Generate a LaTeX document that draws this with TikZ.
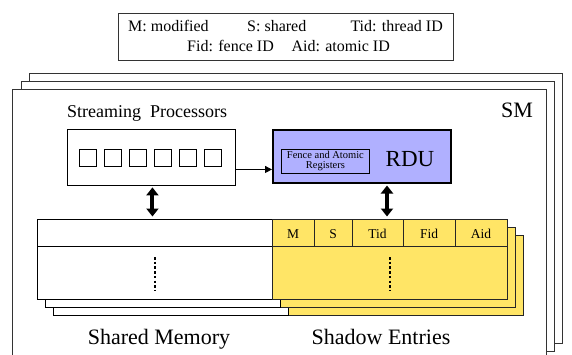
\documentclass[tikz,border=0pt]{standalone}
\usepackage{fontspec}
\setmainfont{Liberation Serif}
\usetikzlibrary{arrows.meta}
\definecolor{rdublue}{HTML}{B0B0FF}
\definecolor{shadowyellow}{HTML}{FFE566}
\definecolor{frameline}{HTML}{333333}

\begin{document}
\begin{tikzpicture}[x=1pt,y=-1pt,
  box/.style={draw, inner sep=0pt, anchor=north west},
  smframe/.style={draw=frameline, line width=0.9pt, fill=white},
  membox/.style={draw, line width=0.9pt, fill=white},
  shdbox/.style={draw=black!85, line width=0.9pt, fill=shadowyellow},
  bigarrow/.style={line width=4pt, {Triangle[length=8pt,width=12pt]}-{Triangle[length=8pt,width=12pt]}, shorten <=1.5pt, shorten >=2.5pt},
  dotcol/.style={line width=2pt, dash pattern=on 2.5pt off 2.2pt},
  lab/.style={anchor=base, inner sep=0pt},
]
\useasboundingbox (0,0) rectangle (572,354);
\clip (0,0) rectangle (572,354);

% legend
\node[box, draw=frameline, line width=0.9pt, minimum width=335pt, minimum height=47pt] (legend) at (118,13) {};
\begin{scope}[font=\fontsize{16}{19}\selectfont]
\node[lab, anchor=base west] (lm) at (128,31) {M: modified};
\node[lab, anchor=base west] (ls) at (247,31) {S: shared};
\node[lab, anchor=base east] (lt) at (443,31) {Tid: thread ID};
\node[lab, anchor=base west] (lf) at (187,51) {Fid: fence ID};
\node[lab, anchor=base east] (la) at (390,51) {Aid: atomic ID};
\end{scope}

% stacked SM frames
\draw[smframe] (29,73) rectangle (562,343);
\draw[smframe] (21,81) rectangle (554,351);
\draw[smframe] (12,89) rectangle (546,362);
\node[lab, font=\fontsize{22}{24}\selectfont] (smlabel) at (517,117) {SM};

% streaming processors
\node[lab, anchor=base west, font=\fontsize{18}{20}\selectfont] (sptitle) at (67,117) {Streaming\ \ Processors};
\node[box, line width=0.9pt, minimum width=168pt, minimum height=56pt] (sp) at (67,129) {};
\foreach \i in {0,...,5}
  \draw[line width=0.8pt] (79+25*\i,149) rectangle ++(17,17);

% RDU
\node[box, line width=2pt, fill=rdublue, minimum width=178pt, minimum height=53pt] (rdu) at (272,129) {};
\node[box, line width=0.8pt, minimum width=88pt, minimum height=24pt] (regs) at (281,149) {};
\node[align=center, inner sep=0pt, font=\fontsize{10.5}{10}\selectfont] (regtext) at (regs.center) {Fence and Atomic\\Registers};
\node[lab, font=\fontsize{23}{25}\selectfont] (rdulabel) at (410,166) {RDU};

% shadow entries and shared memory, back copies first
\draw[shdbox] (288,235) rectangle (523,315);
\draw[membox] (53,235) rectangle (288,315);
\draw[shdbox] (280,227) rectangle (515,307);
\draw[membox] (45,227) rectangle (280,307);
\node[box, line width=0.9pt, fill=white, minimum width=235pt, minimum height=80pt] (mem) at (37,219) {};
\node[box, draw=black!85, line width=0.9pt, fill=shadowyellow, minimum width=235pt, minimum height=80pt] (shd) at (272,219) {};
\draw[line width=0.6pt] (37,246) -- (272,246);
\draw[line width=0.9pt, draw=black!85] (272,246) -- (507,246);
\foreach \x in {314,352,403,455}
  \draw[line width=0.9pt, draw=black!85] (\x,219) -- (\x,246);
\begin{scope}[font=\fontsize{13.5}{15}\selectfont]
\node[lab] (hm) at (293,238) {M};
\node[lab] (hs) at (333,238) {S};
\node[lab] (ht) at (377.5,238) {Tid};
\node[lab] (hf) at (429,238) {Fid};
\node[lab] (ha) at (481,238) {Aid};
\end{scope}
\draw[dotcol] (155,257) -- (155,290);
\draw[dotcol] (390,257) -- (390,290);

\node[lab, font=\fontsize{22}{24}\selectfont] (memlabel) at (159,344) {Shared Memory};
\node[lab, font=\fontsize{22}{24}\selectfont] (shdlabel) at (381,344) {Shadow Entries};

% connectors
\draw[line width=0.9pt, -{Triangle[length=7pt,width=7pt]}] ([yshift=-12pt]sp.east) -- ([yshift=-12pt]sp.east -| rdu.west);
\draw[bigarrow] ([xshift=1pt]sp.south) -- ([xshift=1pt]sp.south |- mem.north);
\draw[bigarrow] ([xshift=25pt]rdu.south) -- ([xshift=25pt]rdu.south |- shd.north);
\end{tikzpicture}
\end{document}
